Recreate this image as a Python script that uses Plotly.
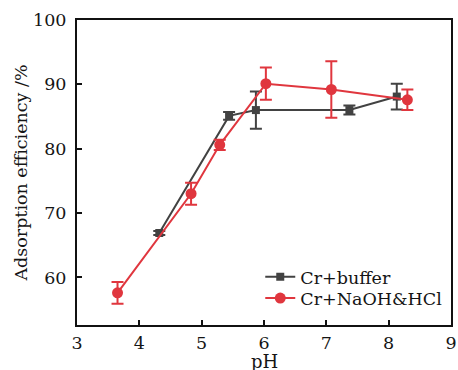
import plotly.graph_objects as go

buffer_ph = [4.32, 5.44, 5.87, 7.37, 8.13]
buffer_eff = [66.9, 85.1, 86.0, 86.0, 88.1]
buffer_err = [0.3, 0.6, 2.9, 0.7, 2.0]

naoh_ph = [3.65, 4.83, 5.29, 6.03, 7.08, 8.30]
naoh_eff = [57.6, 73.0, 80.6, 90.1, 89.2, 87.6]
naoh_err = [1.7, 1.7, 0.8, 2.5, 4.4, 1.6]

x_ticks = [3, 4, 5, 6, 7, 8, 9]
y_ticks = [60, 70, 80, 90, 100]

GRAY = "#424242"
RED = "#e0363e"
FONT = "DejaVu Serif"
TXT = "#151515"

fig = go.Figure()
fig.add_trace(go.Scatter(
    x=buffer_ph, y=buffer_eff, name="Cr+buffer", mode="lines+markers", legend="legend",
    line=dict(color=GRAY, width=2), marker=dict(symbol="square", size=8, color=GRAY),
    error_y=dict(type="data", array=buffer_err, color=GRAY, thickness=2, width=6)))
fig.add_trace(go.Scatter(
    x=naoh_ph, y=naoh_eff, name="Cr+NaOH&HCl", mode="lines+markers", legend="legend2",
    line=dict(color=RED, width=2), marker=dict(symbol="circle", size=11, color=RED),
    error_y=dict(type="data", array=naoh_err, color=RED, thickness=2, width=6)))

leg_common = dict(xanchor="left", yanchor="top", bgcolor="rgba(0,0,0,0)",
                  font=dict(size=17.5, family=FONT, color=TXT))

fig.update_layout(
    width=458, height=370,
    margin=dict(l=77, r=1, t=20, b=45),
    paper_bgcolor="white", plot_bgcolor="white",
    font=dict(family=FONT, size=17, color=TXT),
    showlegend=True,
    legend=dict(x=0.49, y=0.217, **leg_common),
    legend2=dict(x=0.49, y=0.147, **leg_common),
    annotations=[dict(text="pH", xref="paper", yref="paper", x=0.5,
                      y=-(361 - 325) / 305, xanchor="center", yanchor="middle",
                      showarrow=False, font=dict(size=18, family=FONT, color=TXT))],
)
fig.update_xaxes(range=[3, 9], tickvals=x_ticks, ticks="inside", ticklen=5, tickwidth=2,
                 tickcolor="#111", ticklabelstandoff=1, ticklabeloverflow="allow",
                 showline=True, linewidth=2, linecolor="#111", mirror=True, showgrid=False,
                 zeroline=False, tickfont=dict(size=17.5))
fig.update_yaxes(range=[52.6, 100], tickvals=y_ticks, ticks="inside", ticklen=5, tickwidth=2,
                 tickcolor="#111", ticklabelstandoff=5, ticklabeloverflow="allow",
                 showline=True, linewidth=2, linecolor="#111", mirror=True, showgrid=False,
                 zeroline=False,
                 title=dict(text="Adsorption efficiency /%", standoff=1, font=dict(size=17.5)),
                 tickfont=dict(size=17.5))

fig.write_html("out.html")
